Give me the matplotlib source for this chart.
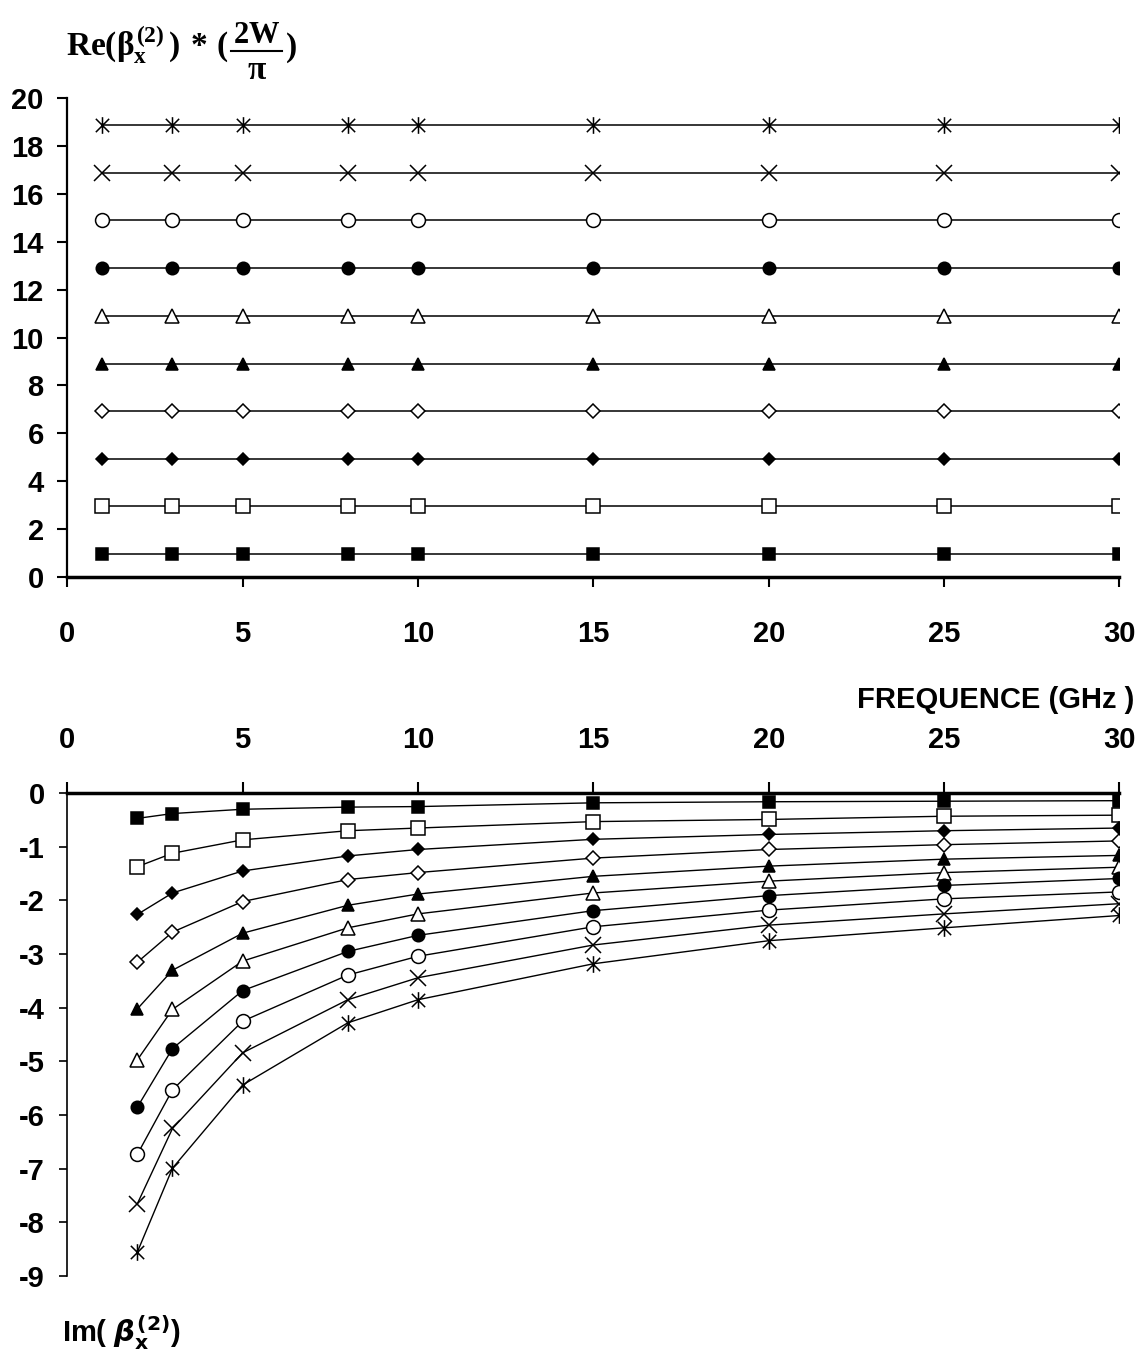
import matplotlib
matplotlib.use("Agg")
import matplotlib.pyplot as plt
from matplotlib.path import Path
from matplotlib.lines import Line2D

# Réglages généraux
plt.rcParams['axes.unicode_minus'] = False
plt.rcParams['font.family'] = ['Liberation Sans', 'DejaVu Sans']
plt.rcParams['font.weight'] = 'bold'
plt.rcParams['mathtext.fontset'] = 'custom'
plt.rcParams['mathtext.rm'] = 'Liberation Serif:bold'
plt.rcParams['mathtext.it'] = 'Liberation Serif:bold'
plt.rcParams['mathtext.bf'] = 'Liberation Serif:bold'

# Données : partie réelle (normalisée) et partie imaginaire
freq_re = [1, 3, 5, 8, 10, 15, 20, 25, 30]
re_1 = [0.95, 0.95, 0.95, 0.95, 0.95, 0.95, 0.95, 0.95, 0.95]
re_2 = [2.95, 2.95, 2.95, 2.95, 2.95, 2.95, 2.95, 2.95, 2.95]
re_3 = [4.93, 4.93, 4.93, 4.93, 4.93, 4.93, 4.93, 4.93, 4.93]
re_4 = [6.92, 6.92, 6.92, 6.92, 6.92, 6.92, 6.92, 6.92, 6.92]
re_5 = [8.91, 8.91, 8.91, 8.91, 8.91, 8.91, 8.91, 8.91, 8.91]
re_6 = [10.91, 10.91, 10.91, 10.91, 10.91, 10.91, 10.91, 10.91, 10.91]
re_7 = [12.92, 12.92, 12.92, 12.92, 12.92, 12.92, 12.92, 12.92, 12.92]
re_8 = [14.91, 14.91, 14.91, 14.91, 14.91, 14.91, 14.91, 14.91, 14.91]
re_9 = [16.88, 16.88, 16.88, 16.88, 16.88, 16.88, 16.88, 16.88, 16.88]
re_10 = [18.89, 18.89, 18.89, 18.89, 18.89, 18.89, 18.89, 18.89, 18.89]

freq_im = [2, 3, 5, 8, 10, 15, 20, 25, 30]
im_1 = [-0.47, -0.38, -0.30, -0.26, -0.25, -0.18, -0.16, -0.15, -0.14]
im_2 = [-1.37, -1.12, -0.87, -0.70, -0.65, -0.53, -0.49, -0.43, -0.41]
im_3 = [-2.26, -1.86, -1.45, -1.17, -1.05, -0.86, -0.77, -0.70, -0.65]
im_4 = [-3.15, -2.59, -2.02, -1.61, -1.48, -1.21, -1.05, -0.96, -0.89]
im_5 = [-4.02, -3.30, -2.61, -2.09, -1.88, -1.55, -1.36, -1.23, -1.16]
im_6 = [-4.97, -4.03, -3.13, -2.51, -2.25, -1.86, -1.64, -1.48, -1.38]
im_7 = [-5.85, -4.76, -3.68, -2.95, -2.65, -2.19, -1.91, -1.72, -1.59]
im_8 = [-6.73, -5.53, -4.25, -3.39, -3.04, -2.49, -2.18, -1.97, -1.84]
im_9 = [-7.65, -6.25, -4.84, -3.85, -3.44, -2.83, -2.46, -2.25, -2.06]
im_10 = [-8.55, -6.99, -5.44, -4.28, -3.85, -3.18, -2.75, -2.51, -2.28]

re_series = [re_1, re_2, re_3, re_4, re_5, re_6, re_7, re_8, re_9, re_10]
im_series = [im_1, im_2, im_3, im_4, im_5, im_6, im_7, im_8, im_9, im_10]

# Marqueur "astérisque" : croix + barre verticale
asterisk = Path([(-1, -1), (1, 1), (-1, 1), (1, -1), (0, -1.25), (0, 1.25)],
                [Path.MOVETO, Path.LINETO, Path.MOVETO, Path.LINETO,
                 Path.MOVETO, Path.LINETO])

# (marqueur, remplissage, taille)
styles = [
    ('s', 'black', 9),
    ('s', 'white', 10),
    ('D', 'black', 6.5),
    ('D', 'white', 7.5),
    ('^', 'black', 9),
    ('^', 'white', 10),
    ('o', 'black', 9),
    ('o', 'white', 10),
    ('x', 'none', 11),
    (asterisk, 'none', 12),
]

W, H = 1140, 1364
fig = plt.figure(figsize=(W / 100, H / 100), dpi=100)

# --- Graphe du haut : partie réelle ---
ax1 = fig.add_axes([0.059, 0.577, 0.923, 0.351])
for vals, (m, fc, ms) in zip(re_series, styles):
    ax1.plot(freq_re, vals, color='black', lw=1.1, marker=m, ms=ms,
             mfc=fc, mec='black', mew=1.1)
ax1.set_xlim(0, 30)
ax1.set_ylim(0, 20)
ax1.set_xticks(range(0, 31, 5))
ax1.set_yticks(range(0, 21, 2))
ax1.spines['top'].set_visible(False)
ax1.spines['right'].set_visible(False)
ax1.spines['bottom'].set_linewidth(2.5)
ax1.spines['left'].set_linewidth(1.6)
ax1.tick_params(axis='x', direction='out', length=7, width=1.5,
                pad=24, labelsize=21)
ax1.tick_params(axis='y', direction='out', length=7, width=1.5,
                pad=10, labelsize=21)
for lab in ax1.get_xticklabels() + ax1.get_yticklabels():
    lab.set_fontweight('bold')

# --- Graphe du bas : partie imaginaire ---
ax2 = fig.add_axes([0.059, 0.0645, 0.923, 0.354])
for vals, (m, fc, ms) in zip(im_series, styles):
    ax2.plot(freq_im, vals, color='black', lw=1.0, marker=m, ms=ms,
             mfc=fc, mec='black', mew=1.1)
ax2.set_xlim(0, 30)
ax2.set_ylim(-9, 0)
ax2.set_xticks(range(0, 31, 5))
ax2.set_yticks(range(-9, 1, 1))
ax2.xaxis.tick_top()
ax2.spines['bottom'].set_visible(False)
ax2.spines['right'].set_visible(False)
ax2.spines['top'].set_linewidth(2.5)
ax2.spines['left'].set_linewidth(1.2)
ax2.tick_params(axis='x', direction='out', length=8, width=1.5,
                pad=20, labelsize=21)
ax2.tick_params(axis='y', direction='out', length=6, width=1.2,
                pad=10, labelsize=21)
for lab in ax2.get_xticklabels() + ax2.get_yticklabels():
    lab.set_fontweight('bold')

# --- Titre de l'axe du haut : Re(beta) * (2W / pi), fraction construite à la main ---
renderer = fig.canvas.get_renderer()
base_y = 1 - 56 / H
t1 = fig.text(66 / W, base_y,
              r'$\mathrm{Re}(\beta_{\mathrm{x}}^{(2)}\,)\,*\,($',
              fontsize=24, ha='left', va='baseline')
x_end = t1.get_window_extent(renderer).x1
num = fig.text(0, 1 - 43 / H, r'$2W$', fontsize=22, ha='center',
               va='baseline')
num_w = num.get_window_extent(renderer).width
cx = x_end + 4 + num_w / 2
num.set_x(cx / W)
fig.text(cx / W, 1 - 79 / H, r'$\pi$', fontsize=24, ha='center',
         va='baseline')
fig.add_artist(Line2D([(cx - num_w / 2 - 2) / W, (cx + num_w / 2 + 2) / W],
                      [1 - 51 / H, 1 - 51 / H], color='black', lw=1.5))
fig.text((cx + num_w / 2 + 5) / W, base_y, r'$)$', fontsize=24, ha='left',
         va='baseline')

# --- Autres titres ---
fig.text(0.995, 1 - 700 / H, 'FREQUENCE (GHz )', fontsize=21,
         fontweight='bold', ha='right', va='center')
fig.text(62 / W, 1 - 1333 / H,
         r'Im( $\beta_{\mathbf{x}}^{\mathbf{(2)}}$)', fontsize=21,
         fontweight='bold', ha='left', va='center',
         math_fontfamily='dejavusans')

fig.savefig('out.png', dpi=100)
